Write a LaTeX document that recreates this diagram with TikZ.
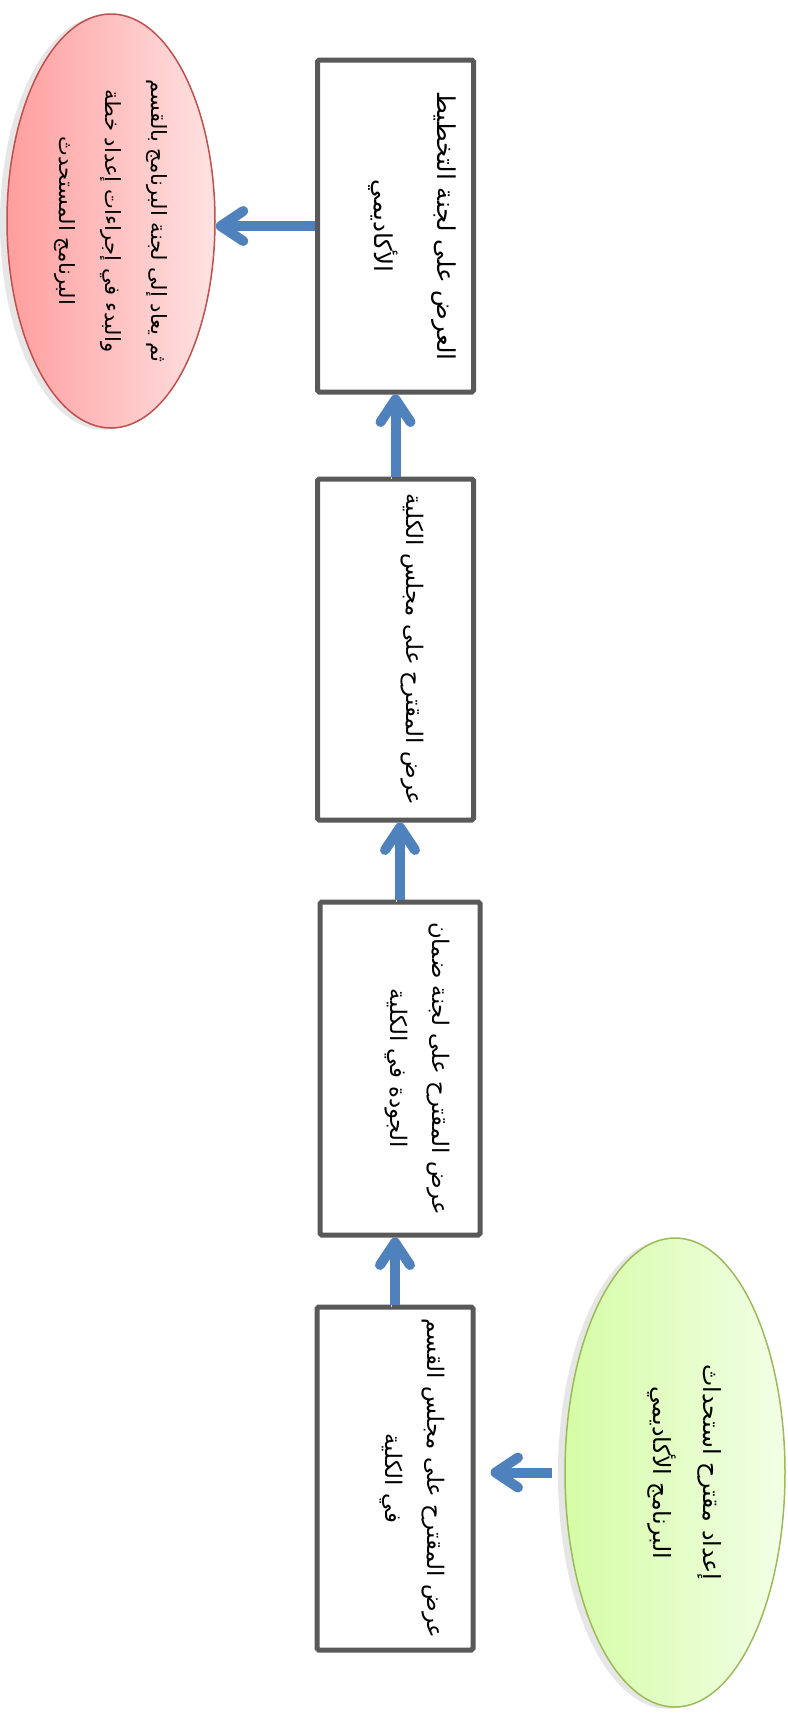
\documentclass[tikz,border=0pt]{standalone}
\usepackage{fontspec}
\newfontfamily\arabicfont[Script=Arabic]{DejaVu Sans}
\TeXXeTstate=1
\setlength{\lineskiplimit}{-100pt}
\usetikzlibrary{shapes.geometric,arrows.meta,shadows}
\definecolor{arrowblue}{HTML}{4F81BD}
\definecolor{boxgray}{HTML}{595959}
\definecolor{redline}{HTML}{C0504D}
\definecolor{greenline}{HTML}{9BBB59}
\definecolor{redleft}{HTML}{FF9E9E}
\definecolor{redright}{HTML}{FFE2E2}
\definecolor{greenleft}{HTML}{D5FCA6}
\definecolor{greenright}{HTML}{F2FFE6}
\tikzset{
  stepbox/.style={draw=boxgray,line width=0.1cm,rounded corners=1pt,fill=white,rotate=-90,
    minimum height=3.12cm,align=center,
    execute at end node={\vrule width 0pt height 0pt depth 0.8cm},
    font=\arabicfont\fontsize{13}{24}\selectfont},
  oval/.style={ellipse,line width=0.03cm,rotate=-90,inner sep=0pt,align=center,
    drop shadow={shadow xshift=-4pt,shadow yshift=-1pt,opacity=0.2},
    font=\arabicfont\fontsize{12}{26}\selectfont},
  flow/.style={draw=arrowblue,line width=0.2cm,
    -{Straight Barb[length=0.45cm,width=0.6cm,line cap=round,line join=round]},
    preaction={draw=black!15,transform canvas={shift={(-0.08,-0.04)}}}}
}
\begin{document}
\begin{tikzpicture}
\useasboundingbox (0,0) rectangle (15.76,-34.48);
\node[oval,draw=greenline,left color=greenleft,right color=greenright,minimum width=9.38cm,minimum height=4.4cm,execute at end node={\vrule width 0pt height 0pt depth 0.5cm},font=\arabicfont\fontsize{13.5}{28}\selectfont] (proposal) at (13.5,-29.45) {\beginR إعداد مقترح  استحداث\endR\\\beginR البرنامج الأكاديمي\endR};
\node[stepbox,minimum width=6.86cm] (deptcouncil) at (7.9,-29.57) {\beginR عرض المقترح على مجلس القسم\endR\\\beginR في الكلية\endR};
\node[stepbox,minimum width=6.66cm,minimum height=3.2cm] (quality) at (8.0,-21.37) {\beginR عرض المقترح على لجنة ضمان\endR\\\beginR الجودة في الكلية\endR};
\node[stepbox,minimum width=6.82cm] (facultycouncil) at (7.91,-12.99) {\beginR عرض المقترح على مجلس الكلية\endR};
\node[stepbox,minimum width=6.64cm,font=\arabicfont\fontsize{14}{36}\selectfont] (planning) at (7.91,-4.52) {\beginR العرض على لجنة التخطيط\endR\\\beginR الأكاديمي\endR};
\node[oval,draw=redline,left color=redleft,right color=redright,minimum width=8.28cm,minimum height=4.16cm] (returned) at (2.22,-4.42) {\beginR ثم يعاد إلى لجنة البرنامج بالقسم\endR\\\beginR والبدء في إجراءات إعداد خطة\endR\\\beginR البرنامج المستحدث\endR};
% arrows
\draw[flow,shorten <=0.24cm,shorten >=0.3cm] (proposal.south) -- (proposal.south -| deptcouncil.north);
\draw[flow] (deptcouncil.west) -- (deptcouncil.west |- quality.east);
\draw[flow] (quality.west) -- (quality.west |- facultycouncil.east);
\draw[flow] (facultycouncil.west) -- (facultycouncil.west |- planning.east);
\draw[flow] (planning.south) -- (planning.south -| returned.north);
\end{tikzpicture}
\end{document}
